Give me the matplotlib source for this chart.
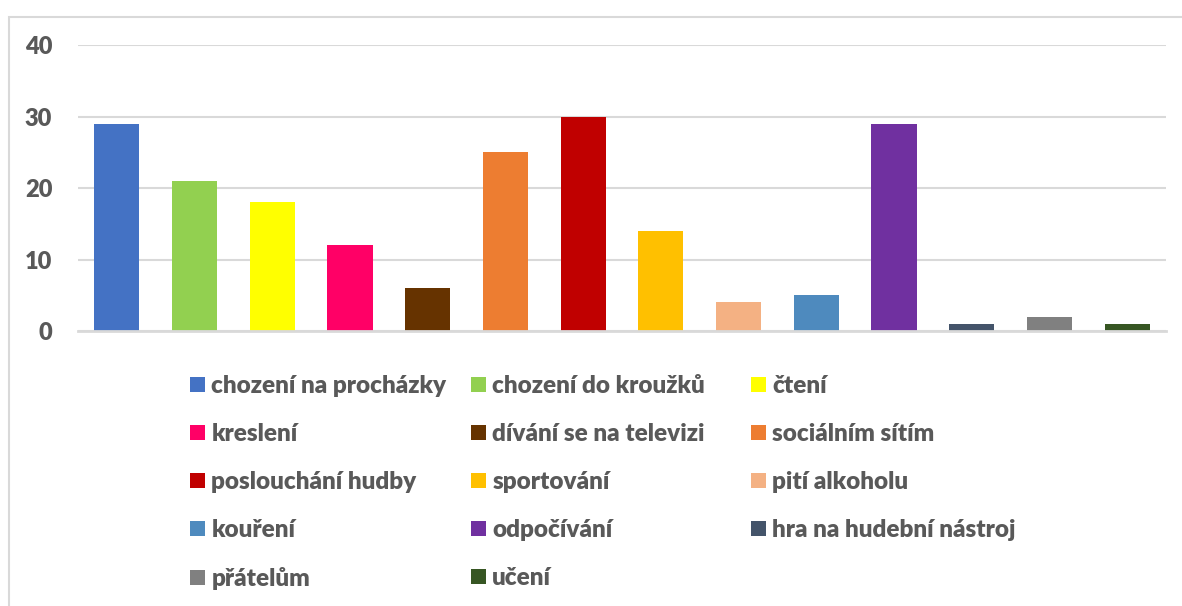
import matplotlib.pyplot as plt
from matplotlib.patches import Patch, Rectangle

plt.rcParams['font.family'] = ['Lato', 'DejaVu Sans']

categories = ['chození na procházky', 'chození do kroužků', 'čtení',
              'kreslení', 'dívání se na televizi', 'sociálním sítím',
              'poslouchání hudby', 'sportování', 'pití alkoholu',
              'kouření', 'odpočívání', 'hra na hudební nástroj',
              'přátelům', 'učení']
values = [29, 21, 18, 12, 6, 25, 30, 14, 4, 5, 29, 1, 2, 1]
colors = ['#4472C4', '#92D050', '#FFFF00', '#FF0066', '#663300', '#ED7D31',
          '#C00000', '#FFC000', '#F4B183', '#4E8ABE', '#7030A0', '#44546A',
          '#808080', '#375623']
yticks = [0, 10, 20, 30, 40]

text_color = '#595959'
grid_color = '#D9D9D9'

fig = plt.figure(figsize=(11.82, 6.06), dpi=100)
ax = fig.add_axes([0.066, 0.4538, 0.9205, 0.4719])

x = range(len(categories))
ax.bar(x, values, width=0.58, color=colors, zorder=3)

ax.set_xlim(-0.5, len(categories) - 0.5)
ax.set_ylim(0, 40)
ax.set_yticks(yticks)
ax.set_xticks([])
ax.yaxis.grid(True, color=grid_color, linewidth=1.5, zorder=0)
for side in ['top', 'right', 'left']:
    ax.spines[side].set_visible(False)
ax.spines['bottom'].set_color(grid_color)
ax.spines['bottom'].set_linewidth(2)
ax.spines['bottom'].set_zorder(4)
ax.tick_params(axis='y', length=0, pad=18.5, labelsize=17, labelcolor=text_color)
for lbl in ax.get_yticklabels():
    lbl.set_fontweight('heavy')

# legend: three columns, items filled row by row
col_x = [0.1506, 0.3883, 0.6252]
for c in range(3):
    idx = list(range(c, len(categories), 3))
    handles = [Patch(facecolor=colors[i], edgecolor='none') for i in idx]
    labels = [categories[i] for i in idx]
    leg = fig.legend(handles, labels, loc='upper left',
                     bbox_to_anchor=(col_x[c], 0.401), frameon=False,
                     prop={'size': 17.5, 'weight': 'heavy'},
                     handlelength=0.62, handleheight=0.62,
                     handletextpad=0.25, labelspacing=1.07, borderpad=0)
    for t in leg.get_texts():
        t.set_color(text_color)

# chart border (only left and top visible in the crop)
fig.patches.append(Rectangle((8.5 / 1182, -0.1), 1.2, 1.1 - 16.5 / 606,
                             transform=fig.transFigure, fill=False,
                             edgecolor=grid_color, linewidth=1.5))

fig.savefig('out.png', dpi=100)
